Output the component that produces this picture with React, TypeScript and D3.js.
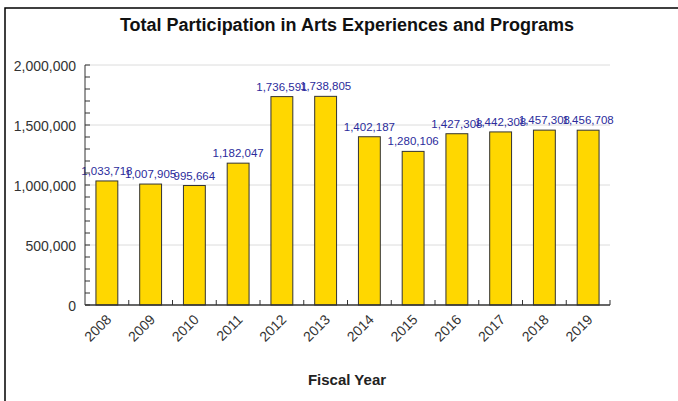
import React from 'react';
import * as d3 from 'd3';

const years = ['2008', '2009', '2010', '2011', '2012', '2013', '2014', '2015', '2016', '2017', '2018', '2019'];
const participation = [1033718, 1007905, 995664, 1182047, 1736591, 1738805, 1402187, 1280106, 1427308, 1442308, 1457308, 1456708];
const majorTicks = [0, 500000, 1000000, 1500000, 2000000];

const W = 678;
const H = 401;
const left = 85;
const right = 610;
const top = 65;
const bottom = 305;
const font = 'Arial, "Liberation Sans", sans-serif';

export default function App() {
  const x = d3.scaleBand<string>().domain(years).range([left, right]).paddingInner(0.5).paddingOuter(0.25);
  const band = d3.scaleBand<string>().domain(years).range([left, right]);
  const y = d3.scaleLinear().domain([0, 2000000]).range([bottom, top]);
  const minor = d3.range(0, 2000001, 100000);
  const fmt = d3.format(',');

  return (
    <div style={{ position: 'fixed', left: 0, top: 0 }}>
      <svg width={W} height={H} style={{ display: 'block', background: '#fff', fontFamily: font }}>
        <rect x={5} y={8} width={W + 20} height={H + 20} fill="#fff" stroke="#000" strokeWidth={1.5} />
        <text x={347} y={31} textAnchor="middle" fontSize={18} fontWeight="bold" fill="#111">
          Total Participation in Arts Experiences and Programs
        </text>

        {majorTicks.map(t => (
          <g key={t}>
            {t > 0 && <line x1={left} x2={right} y1={y(t)} y2={y(t)} stroke="#dcdcdc" strokeWidth={1} />}
            <text x={76} y={y(t)} dy="0.4em" textAnchor="end" fontSize={14} fill="#333">{fmt(t)}</text>
          </g>
        ))}
        {minor.map(t => (
          <line key={t} x1={left} x2={left + 5} y1={y(t)} y2={y(t)} stroke="#333" strokeWidth={1} />
        ))}

        {years.map((yr, i) => (
          <g key={yr}>
            <rect
              x={x(yr)}
              y={y(participation[i])}
              width={x.bandwidth()}
              height={bottom - y(participation[i])}
              fill="#FFD700"
              stroke="#333"
              strokeWidth={1}
            />
            <text
              x={x(yr)! + x.bandwidth() / 2}
              y={y(participation[i]) - 6}
              textAnchor="middle"
              fontSize={11.5}
              fill="#2b2b9c"
            >
              {fmt(participation[i])}
            </text>
            <text
              transform={`translate(${x(yr)! + x.bandwidth() / 2 + 2},${bottom + 12}) rotate(-45)`}
              textAnchor="end"
              dy="0.35em"
              fontSize={14}
              fill="#333"
            >
              {yr}
            </text>
          </g>
        ))}
        {years.map(yr => (
          <line key={yr} x1={band(yr)! + band.bandwidth()} x2={band(yr)! + band.bandwidth()} y1={bottom} y2={bottom - 5} stroke="#333" strokeWidth={1} />
        ))}

        <line x1={left} x2={left} y1={top} y2={bottom} stroke="#333" strokeWidth={1} />
        <line x1={left} x2={right} y1={bottom} y2={bottom} stroke="#333" strokeWidth={1.5} />

        <text x={347} y={385} textAnchor="middle" fontSize={15} fontWeight="bold" fill="#222">Fiscal Year</text>
      </svg>
    </div>
  );
}
